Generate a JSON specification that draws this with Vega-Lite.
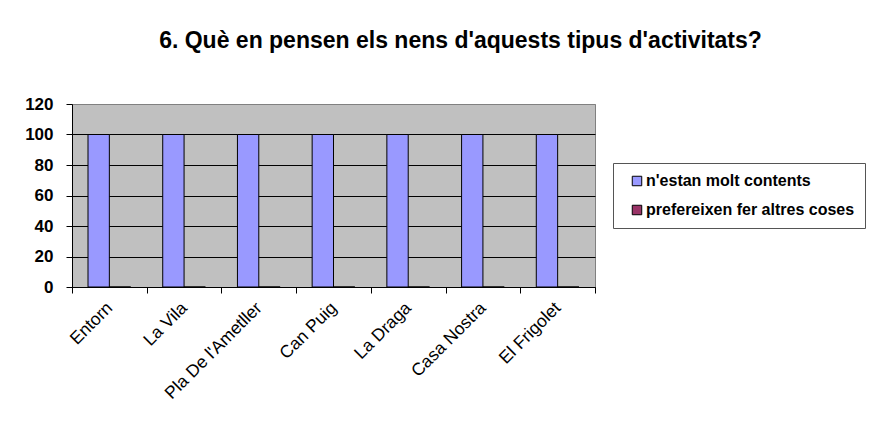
{
  "$schema": "https://vega.github.io/schema/vega-lite/v6.json",
  "width": 523,
  "height": 183,
  "autosize": {"type": "none"},
  "padding": {"left": 72, "top": 104, "right": 275, "bottom": 158},
  "background": "white",
  "title": {
    "text": "6. Què en pensen els nens d'aquests tipus d'activitats?",
    "font": "Liberation Sans",
    "fontSize": 23,
    "fontWeight": "bold",
    "color": "black",
    "anchor": "middle",
    "frame": "group",
    "dx": 127,
    "offset": 42
  },
  "data": {
    "values": [
      {"centre": "Entorn", "serie": "n'estan molt contents", "valor": 100},
      {"centre": "Entorn", "serie": "prefereixen fer altres coses", "valor": 0},
      {"centre": "La Vila", "serie": "n'estan molt contents", "valor": 100},
      {"centre": "La Vila", "serie": "prefereixen fer altres coses", "valor": 0},
      {"centre": "Pla De l'Ametller", "serie": "n'estan molt contents", "valor": 100},
      {"centre": "Pla De l'Ametller", "serie": "prefereixen fer altres coses", "valor": 0},
      {"centre": "Can Puig", "serie": "n'estan molt contents", "valor": 100},
      {"centre": "Can Puig", "serie": "prefereixen fer altres coses", "valor": 0},
      {"centre": "La Draga", "serie": "n'estan molt contents", "valor": 100},
      {"centre": "La Draga", "serie": "prefereixen fer altres coses", "valor": 0},
      {"centre": "Casa Nostra", "serie": "n'estan molt contents", "valor": 100},
      {"centre": "Casa Nostra", "serie": "prefereixen fer altres coses", "valor": 0},
      {"centre": "El Frigolet", "serie": "n'estan molt contents", "valor": 100},
      {"centre": "El Frigolet", "serie": "prefereixen fer altres coses", "valor": 0}
    ]
  },
  "mark": {"type": "bar", "stroke": "black", "strokeWidth": 1},
  "encoding": {
    "x": {
      "field": "centre",
      "type": "nominal",
      "sort": null,
      "scale": {"paddingInner": 0, "paddingOuter": 0},
      "axis": {
        "title": null,
        "labelAngle": -45,
        "labelAlign": "right",
        "labelBaseline": "middle",
        "labelFont": "Liberation Sans",
        "labelFontSize": 17.5,
        "labelColor": "black",
        "labelPadding": 12,
        "labelLimit": 300,
        "tickBand": "extent",
        "tickSize": 6,
        "tickColor": "black",
        "domainColor": "black",
        "grid": false
      }
    },
    "xOffset": {
      "field": "serie",
      "type": "nominal",
      "scale": {
        "domain": ["n'estan molt contents", "prefereixen fer altres coses"],
        "paddingInner": 0,
        "paddingOuter": 0.75
      }
    },
    "y": {
      "field": "valor",
      "type": "quantitative",
      "scale": {"domain": [0, 120], "nice": false},
      "axis": {
        "title": null,
        "values": [0, 20, 40, 60, 80, 100, 120],
        "grid": true,
        "gridColor": {"condition": {"test": "datum.value == 120", "value": "#808080"}, "value": "black"},
        "gridWidth": 1,
        "gridOpacity": 1,
        "tickSize": 6,
        "tickColor": "black",
        "domainColor": "black",
        "labelFont": "Liberation Sans",
        "labelFontSize": 17,
        "labelFontWeight": "bold",
        "labelColor": "black",
        "labelPadding": 13
      }
    },
    "color": {
      "field": "serie",
      "type": "nominal",
      "scale": {
        "domain": ["n'estan molt contents", "prefereixen fer altres coses"],
        "range": ["#9999FF", "#993366"]
      },
      "legend": {
        "title": null,
        "orient": "none",
        "legendX": 541,
        "legendY": 59,
        "padding": 10,
        "rowPadding": 13,
        "strokeColor": "#555555",
        "fillColor": "white",
        "symbolType": "square",
        "symbolSize": 90,
        "symbolStrokeColor": "black",
        "symbolStrokeWidth": 1,
        "symbolOffset": 6,
        "labelOffset": 1,
        "labelFont": "Liberation Sans",
        "labelFontSize": 16,
        "labelFontWeight": "bold",
        "labelLimit": 400,
        "labelColor": "black"
      }
    }
  },
  "config": {
    "view": {"fill": "#C0C0C0", "stroke": "#808080", "strokeWidth": 1}
  }
}
